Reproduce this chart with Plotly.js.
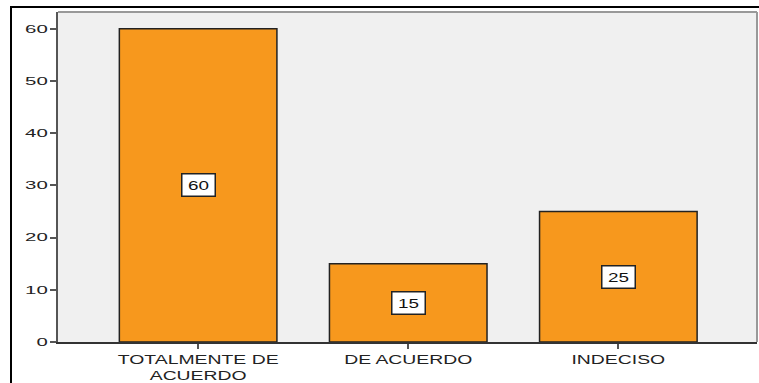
<!DOCTYPE html>
<html><head><meta charset="utf-8">
<script src="https://cdn.plot.ly/plotly-3.0.1.min.js"></script>
<style>
html,body{margin:0;padding:0;background:#fff;}
#wrap{position:relative;width:759px;height:383px;}
#chart{position:absolute;left:0;top:0;width:759px;height:383px;}
#frame{position:absolute;left:10px;top:6px;width:760px;height:400px;border-left:2px solid #000;border-top:2px solid #000;pointer-events:none;}
</style></head>
<body><div id="wrap"><div id="chart"></div><div id="frame"></div></div>
<script>
const categories = ["TOTALMENTE DE<br>ACUERDO", "DE ACUERDO", "INDECISO"];
const values = [60, 15, 25];
const yTicks = [0, 10, 20, 30, 40, 50, 60];

const FONT = 'Liberation Sans, Arial, sans-serif';

const trace = {
  type: 'bar',
  x: categories,
  y: values,
  width: 0.75,
  marker: {color: '#f7981d', line: {color: '#222', width: 1.5}},
  hoverinfo: 'none'
};

const annotations = categories.map((c, i) => ({
  x: c, y: values[i] / 2, xref: 'x', yref: 'y',
  text: String(values[i]), showarrow: false,
  font: {family: FONT, size: 13, color: '#111'},
  bgcolor: '#fff', bordercolor: '#222', borderwidth: 1.5, borderpad: 2,
  width: 28, height: 17
}));

const layout = {
  width: 759, height: 383,
  margin: {l: 58, r: 2, t: 12, b: 41},
  paper_bgcolor: 'rgba(0,0,0,0)',
  plot_bgcolor: '#f0f0f0',
  showlegend: false,
  font: {family: FONT, size: 13, color: '#222'},
  xaxis: {
    type: 'category', range: [-0.667, 2.66],
    showgrid: false, zeroline: false,
    showline: true, linecolor: '#333', linewidth: 2,
    ticks: 'outside', ticklen: 5, tickcolor: '#555', tickwidth: 2,
    tickfont: {size: 12.5, color: '#222'}
  },
  yaxis: {
    range: [0, 63.2], tickvals: yTicks,
    showgrid: false, zeroline: false,
    showline: true, linecolor: '#555', linewidth: 2,
    ticks: 'outside', ticklen: 6, tickcolor: '#555', tickwidth: 2,
    tickfont: {size: 11, color: '#222'}
  },
  annotations: annotations,
  shapes: [
    {type: 'line', xref: 'paper', yref: 'paper', x0: 0, x1: 1, y0: 1, y1: 1, line: {color: '#999', width: 2}},
    {type: 'line', xref: 'paper', yref: 'paper', x0: 1, x1: 1, y0: 0, y1: 1, line: {color: '#999', width: 2}}
  ]
};

function stretch(el, f) {
  const parts = el.querySelectorAll('tspan.line');
  const targets = parts.length ? parts : [el];
  targets.forEach(t => {
    const len = t.getComputedTextLength();
    if (len > 0) {
      t.setAttribute('textLength', (len * f).toFixed(1));
      t.setAttribute('lengthAdjust', 'spacingAndGlyphs');
    }
  });
}

Plotly.newPlot('chart', [trace], layout, {displayModeBar: false, staticPlot: true}).then(gd => {
  gd.querySelectorAll('.xtick text').forEach(t => stretch(t, 1.55));
  gd.querySelectorAll('.ytick text').forEach(t => stretch(t, 1.85));
  gd.querySelectorAll('.annotation-text').forEach(t => stretch(t, 1.45));
});
</script></body></html>
